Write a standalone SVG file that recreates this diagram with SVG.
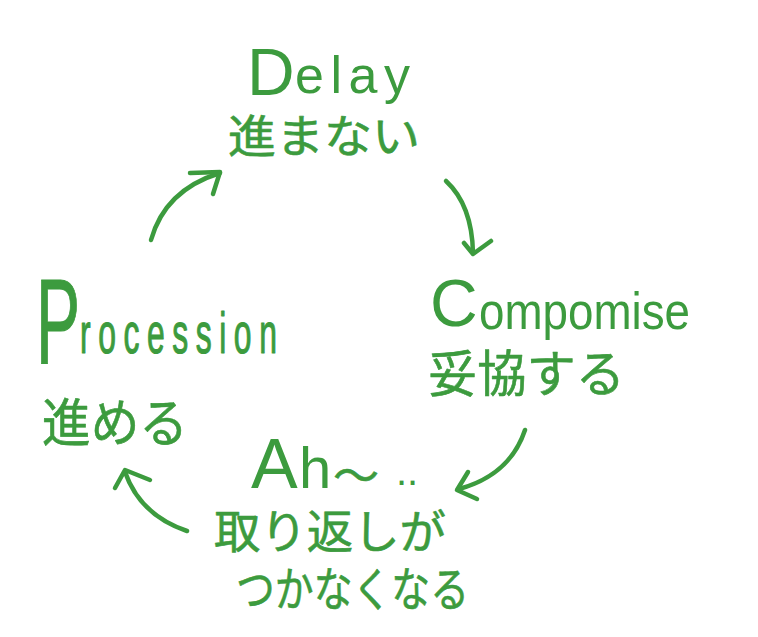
<svg xmlns="http://www.w3.org/2000/svg" width="758" height="637" viewBox="0 0 758 637">
<style>
.lat{font-family:"Liberation Sans","DejaVu Sans",sans-serif;fill:#3c9b3e}
.jp{font-family:"Noto Sans CJK JP","Noto Sans",sans-serif;fill:#3c9b3e;stroke:#3c9b3e;stroke-width:0.6;stroke-linejoin:round}
.arr{fill:none;stroke:#3c9b3e;stroke-width:4.5;stroke-linecap:round;stroke-linejoin:round}
</style>
<rect width="758" height="637" fill="#ffffff"/>
<g id="delay">
<text class="lat"><tspan x="247" y="95" font-size="66">D</tspan><tspan x="295" y="93" font-size="52" textLength="115" lengthAdjust="spacing">elay</tspan></text>
<text class="jp" x="228" y="153" font-size="45" textLength="192" lengthAdjust="spacingAndGlyphs">進まない</text>
</g>
<g id="compromise">
<text class="lat"><tspan x="430" y="326" font-size="66">C</tspan><tspan x="479" y="329" font-size="52" textLength="211" lengthAdjust="spacingAndGlyphs">ompomise</tspan></text>
<text class="jp" x="428" y="392" font-size="50" textLength="197" lengthAdjust="spacingAndGlyphs">妥協する</text>
</g>
<g id="procession">
<text class="lat" transform="translate(36,0) scale(0.55,1)" style="stroke:#3c9b3e;stroke-width:1.2;stroke-linejoin:round"><tspan x="0" y="363" font-size="120">P</tspan><tspan x="80" y="353" font-size="58" textLength="358" lengthAdjust="spacing">rocession</tspan></text>
<text class="jp" x="42" y="442" font-size="52" textLength="146" lengthAdjust="spacingAndGlyphs">進める</text>
</g>
<g id="ah">
<text class="lat"><tspan x="251" y="488" font-size="70">A</tspan><tspan x="299" y="488" font-size="58">h</tspan><tspan class="jp" x="333" y="492" font-size="46">～</tspan><tspan x="396" y="485" font-size="40">..</tspan></text>
<text class="jp" x="214" y="548" font-size="46" textLength="232" lengthAdjust="spacingAndGlyphs">取り返しが</text>
<text class="jp" x="236" y="606" font-size="47" textLength="233" lengthAdjust="spacingAndGlyphs">つかなくなる</text>
</g>
<g id="connectors">
<path class="arr" d="M151,240 Q165,190 220,173"/>
<path class="arr" d="M190,173 L220,172 L213,194"/>
<path class="arr" d="M446,181 Q472,205 473,253"/>
<path class="arr" d="M464,243 L473,254 L491,241"/>
<path class="arr" d="M525,430 Q510,475 459,489"/>
<path class="arr" d="M468,472 L457,490 L477,499"/>
<path class="arr" d="M187,531 Q140,515 125,472"/>
<path class="arr" d="M115,488 L125,470 L150,480"/>
</g>
</svg>
